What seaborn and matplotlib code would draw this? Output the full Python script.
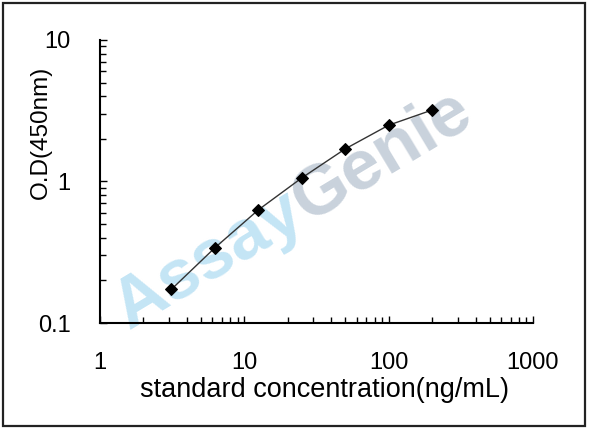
import matplotlib
matplotlib.use("Agg")
import matplotlib.pyplot as plt
import matplotlib.ticker as mticker
from matplotlib.patches import Rectangle
import seaborn as sns
import pandas as pd

# data
concentration = [3.125, 6.25, 12.5, 25, 50, 100, 200]
od_450 = [0.173, 0.340, 0.63, 1.06, 1.70, 2.50, 3.20]
x_ticks = [1, 10, 100, 1000]
x_tick_labels = ["1", "10", "100", "1000"]
y_ticks = [0.1, 1, 10]
y_tick_labels = ["0.1", "1", "10"]

sns.set_style("white")
plt.rcParams["font.family"] = ["Liberation Sans", "DejaVu Sans"]

df = pd.DataFrame({"conc": concentration, "od": od_450})

fig = plt.figure(figsize=(5.9, 4.28), dpi=100)
W, H = 590, 428
ax = fig.add_axes([100 / W, 1 - 323 / H, 433 / W, 283 / H])
ax.set_facecolor("none")

sns.lineplot(data=df, x="conc", y="od", ax=ax, color="#333333", linewidth=1.0,
             marker="D", markersize=6, markerfacecolor="black",
             markeredgecolor="black", zorder=5)

ax.set_xscale("log")
ax.set_yscale("log")
ax.set_xlim(1, 1000)
ax.set_ylim(0.1, 10)
ax.set_xticks(x_ticks)
ax.set_xticklabels(x_tick_labels)
ax.set_yticks(y_ticks)
ax.set_yticklabels(y_tick_labels)
ax.xaxis.set_minor_locator(mticker.LogLocator(base=10, subs=range(2, 10)))
ax.yaxis.set_minor_locator(mticker.LogLocator(base=10, subs=range(2, 10)))
ax.xaxis.set_minor_formatter(mticker.NullFormatter())
ax.yaxis.set_minor_formatter(mticker.NullFormatter())

ax.tick_params(axis="both", which="both", direction="in", color="black",
               width=1.0, bottom=True, left=True, top=False, right=False)
ax.tick_params(axis="both", which="major", length=5, labelsize=17)
ax.tick_params(axis="both", which="minor", length=4.5)
ax.tick_params(axis="x", which="major", pad=21)
ax.tick_params(axis="y", which="major", pad=21)
for lab in ax.get_xticklabels() + ax.get_yticklabels():
    lab.set_color("black")

for s in ["top", "right"]:
    ax.spines[s].set_visible(False)
for s in ["left", "bottom"]:
    ax.spines[s].set_color("black")
    ax.spines[s].set_linewidth(1.5)

ax.set_xlabel("standard concentration(ng/mL)", fontsize=19.5, color="black")
ax.set_ylabel("O.D(450nm)", fontsize=17.5, color="black")
ax.xaxis.set_label_coords((325 - 100) / 433, -(377 - 323) / 283)
ax.yaxis.set_label_coords((41 - 100) / 433, (323 - 132) / 283)
ax.xaxis.label.set_va("top")
ax.yaxis.label.set_va("center")

# watermark
jx, jy = 298 / W, 1 - 207 / H
fig.text(jx, jy, "Assay", rotation=31, rotation_mode="anchor", ha="right",
         va="center", fontsize=51, fontweight="bold", color="#c4e5f5",
         zorder=0)
fig.text(jx, jy, "Genie", rotation=31, rotation_mode="anchor", ha="left",
         va="center", fontsize=51, fontweight="bold", color="#c9d2dc",
         zorder=0)
ax.set_zorder(2)

# outer frame
fig.patches.append(Rectangle((3 / W, 2 / H), 582 / W, 423 / H,
                             transform=fig.transFigure, fill=False,
                             edgecolor="#222222", linewidth=1.6))

fig.savefig("out.png", dpi=100)
